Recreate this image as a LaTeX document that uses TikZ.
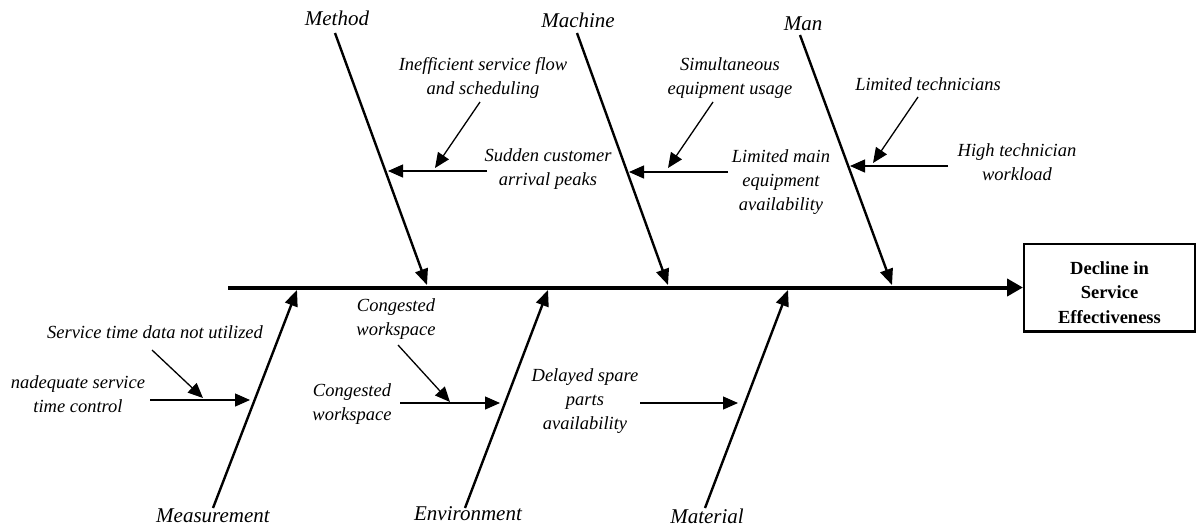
\documentclass[tikz,border=0pt]{standalone}
\usepackage{fontspec}
\setmainfont{Liberation Serif}
\usetikzlibrary{arrows.meta}
\begin{document}
\begin{tikzpicture}[x=1pt,y=-1pt,
  spine/.style={line width=4pt,-{Triangle[length=16pt,width=17pt]}},
  bone/.style={line width=2.4pt,-{Triangle[length=16pt,width=13pt]}},
  sub/.style={line width=1.3pt,-{Triangle[length=15pt,width=13pt]}},
  cat/.style={font=\itshape\fontsize{21}{25}\selectfont,inner sep=0pt,anchor=base},
  cause/.style={font=\itshape\fontsize{18.5}{24}\selectfont,align=center,inner sep=0pt},
  effectbox/.style={draw,line width=2.4pt,minimum width=170.6pt,minimum height=87.6pt,
    font=\bfseries\fontsize{18.5}{24.5}\selectfont,align=center,inner sep=0pt}]
\useasboundingbox (0,0) rectangle (1196,531);

% effect and spine
\node[effectbox] (effect) at (1109.5,287.5) {\rule{0pt}{23pt}Decline in\\Service\\Effectiveness};
\coordinate (tail) at (228,287.5);
\draw[spine] (tail) -- (effect.west);

% category labels
\node[cat] (method) at (337,25) {Method};
\node[cat] (machine) at (578,27) {Machine};
\node[cat] (man) at (803,30) {Man};
\node[cat] (measurement) at (213,522) {Measurement};
\node[cat] (environment) at (468,520) {Environment};
\node[cat] (material) at (707,523) {Material};

% bones
\coordinate (mt0) at (335,33);  \coordinate (mt1) at (427,285);
\coordinate (mc0) at (577,33);  \coordinate (mc1) at (668,285);
\coordinate (mn0) at (800,35);  \coordinate (mn1) at (892,285);
\coordinate (ms0) at (213,508); \coordinate (ms1) at (297,290);
\coordinate (en0) at (465,508); \coordinate (en1) at (548,290);
\coordinate (ma0) at (705,508); \coordinate (ma1) at (788,290);
\draw[bone] (mt0) -- (mt1);
\draw[bone] (mc0) -- (mc1);
\draw[bone] (mn0) -- (mn1);
\draw[bone] (ms0) -- (ms1);
\draw[bone] (en0) -- (en1);
\draw[bone] (ma0) -- (ma1);

% cause texts
\node[cause] (ineff) at (483,78) {Inefficient service flow\\and scheduling};
\node[cause] (sudden) at (548,169) {Sudden customer\\arrival peaks};
\node[cause] (simul) at (730,78) {Simultaneous\\equipment usage};
\node[cause] (limmain) at (781,182) {Limited main\\equipment\\availability};
\node[cause,anchor=base] (limtech) at (928,90) {Limited technicians};
\node[cause] (hightech) at (1017,162) {High technician\\workload};
\node[cause,anchor=base] (stdata) at (155,338) {Service time data not utilized};
\node[cause] (inadeq) at (78,394) {nadequate service\\time control};
\node[cause] (cong1) at (396,319) {Congested\\workspace};
\node[cause] (cong2) at (352,404) {Congested\\workspace};
\node[cause] (delayed) at (585,401) {Delayed spare\\parts\\availability};

% cause arrows
\coordinate (a1s) at (487,171); \coordinate (a1e) at (388,171);
\coordinate (a2s) at (480,102); \coordinate (a2e) at (435,168);
\draw[sub] (a1s) -- (a1e);
\draw[sub] (a2s) -- (a2e);

\coordinate (b1s) at (728,172); \coordinate (b1e) at (629,172);
\coordinate (b2s) at (713,102); \coordinate (b2e) at (668,168);
\draw[sub] (b1s) -- (b1e);
\draw[sub] (b2s) -- (b2e);

\coordinate (c1s) at (948,166); \coordinate (c1e) at (850,166);
\coordinate (c2s) at (918,97);  \coordinate (c2e) at (873,163);
\draw[sub] (c1s) -- (c1e);
\draw[sub] (c2s) -- (c2e);

\coordinate (d1s) at (150,400); \coordinate (d1e) at (250,400);
\coordinate (d2s) at (152,350); \coordinate (d2e) at (203,398);
\draw[sub] (d1s) -- (d1e);
\draw[sub] (d2s) -- (d2e);

\coordinate (e1s) at (400,403); \coordinate (e1e) at (500,403);
\coordinate (e2s) at (398,345); \coordinate (e2e) at (450,402);
\draw[sub] (e1s) -- (e1e);
\draw[sub] (e2s) -- (e2e);

\coordinate (f1s) at (640,403); \coordinate (f1e) at (738,403);
\draw[sub] (f1s) -- (f1e);
\end{tikzpicture}
\end{document}
